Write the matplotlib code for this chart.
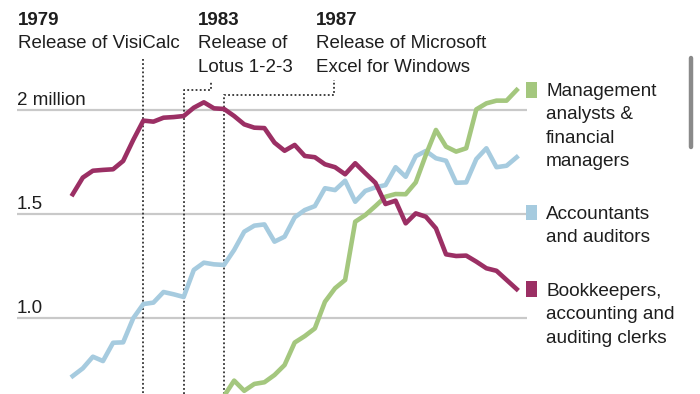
import matplotlib
matplotlib.use("Agg")
import matplotlib.pyplot as plt
from matplotlib.patches import Rectangle
import matplotlib.transforms as mtrans

plt.rcParams['font.family'] = ['Liberation Sans', 'DejaVu Sans']

years = list(range(1972, 2017))

bookkeepers = [1.595, 1.675, 1.708, 1.712, 1.715, 1.755, 1.856, 1.949, 1.944, 1.963,
               1.966, 1.971, 2.011, 2.037, 2.008, 2.005, 1.971, 1.931, 1.915, 1.913,
               1.843, 1.804, 1.832, 1.779, 1.773, 1.739, 1.725, 1.691, 1.744, 1.696,
               1.650, 1.548, 1.564, 1.455, 1.503, 1.487, 1.431, 1.306, 1.298, 1.300,
               1.271, 1.239, 1.227, 1.183, 1.139]

accountants = [0.721, 0.758, 0.814, 0.793, 0.881, 0.883, 0.999, 1.067, 1.074, 1.125,
               1.114, 1.101, 1.231, 1.266, 1.258, 1.255, 1.327, 1.415, 1.444, 1.450,
               1.367, 1.391, 1.484, 1.519, 1.538, 1.624, 1.615, 1.660, 1.559, 1.611,
               1.628, 1.639, 1.725, 1.679, 1.778, 1.803, 1.768, 1.756, 1.650, 1.652,
               1.764, 1.816, 1.725, 1.732, 1.773]

mgmt_years = list(range(1987, 2017))
management = [0.625, 0.699, 0.650, 0.683, 0.691, 0.726, 0.774, 0.882, 0.913, 0.950,
              1.078, 1.143, 1.183, 1.463, 1.495, 1.538, 1.583, 1.596, 1.595, 1.652,
              1.784, 1.904, 1.824, 1.800, 1.816, 2.003, 2.032, 2.045, 2.045, 2.096]

grid_values = [2.0, 1.5, 1.0]
grid_labels = ["2 million", "1.5", "1.0"]

events = [1979, 1983, 1987]
event_titles = ["1979", "1983", "1987"]
event_texts = [["Release of VisiCalc"], ["Release of", "Lotus 1-2-3"],
               ["Release of Microsoft", "Excel for Windows"]]

legend_labels = [["Management", "analysts &", "financial", "managers"],
                 ["Accountants", "and auditors"],
                 ["Bookkeepers,", "accounting and", "auditing clerks"]]

MAGENTA = "#9b2f64"
BLUE = "#a6cbdf"
GREEN = "#a4c77e"
GRID = "#c9c9c9"
TEXT = "#1e1e1e"
DOT = "#333333"

W, H = 700, 394
fig = plt.figure(figsize=(7.0, 3.94), dpi=100)
ax = fig.add_axes([0, 0, 1, 1])
ax.set_axis_off()

# pixel mapping
x0_pix, px_per_year = 72.7, 10.09
y2_pix, px_per_million = 110.0, 208.0
ax.set_xlim(1972 - x0_pix / px_per_year, 1972 + (W - x0_pix) / px_per_year)
ax.set_ylim(2.0 - (H - y2_pix) / px_per_million, 2.0 + y2_pix / px_per_million)

def fx(px):
    return px / W

def fy(py):
    return 1 - py / H

def year_of(px):
    return 1972 + (px - x0_pix) / px_per_year

def put(px, py, s, **kw):
    ax.text(fx(px), fy(py), s, transform=ax.transAxes, color=TEXT,
            va='baseline', ha='left', **kw)

# gridlines and labels
for v, lab in zip(grid_values, grid_labels):
    ax.hlines(v, year_of(17), year_of(527), color=GRID, lw=1.6, zorder=1)
    put(17, y2_pix + (2.0 - v) * px_per_million - 5, lab, fontsize=13.5)

# lines
ax.plot(years, accountants, color=BLUE, lw=3.3, zorder=3)
ax.plot(mgmt_years, management, color=GREEN, lw=3.3, zorder=4)
ax.plot(years, bookkeepers, color=MAGENTA, lw=3.3, zorder=5)

# event annotation lines (x in data, y in axes fraction)
blend = mtrans.blended_transform_factory(ax.transData, ax.transAxes)
dot_kw = dict(color=DOT, lw=1.3, linestyle=(0, (1, 1.3)), zorder=2, transform=blend,
              clip_on=False)
ax.plot([events[0], events[0]], [fy(59), 0], **dot_kw)
ax.plot([events[1], events[1], year_of(210.7), year_of(210.7)],
        [0, fy(90), fy(90), fy(81)], **dot_kw)
ax.plot([events[2], events[2], year_of(333.5), year_of(333.5)],
        [0, fy(95), fy(95), fy(80)], **dot_kw)

text_x = [18, 198, 316]
for tx, title, body in zip(text_x, event_titles, event_texts):
    put(tx, 25, title, fontsize=13.5, fontweight='bold')
    for i, line in enumerate(body):
        put(tx, 48 + 23.5 * i, line, fontsize=13.5)

# legend
leg_colors = [GREEN, BLUE, MAGENTA]
leg_top = [82, 204.5, 281]
leg_base = [96, 219, 296]
for c, top, base, lab in zip(leg_colors, leg_top, leg_base, legend_labels):
    ax.add_patch(Rectangle((fx(526), fy(top + 15.5)), 11 / W, 15.5 / H,
                           transform=ax.transAxes, color=c, lw=0, clip_on=False))
    for i, line in enumerate(lab):
        put(546, base + 23.3 * i, line, fontsize=13.7)

# scrollbar artefact
ax.plot([fx(691), fx(691)], [fy(58), fy(147)], transform=ax.transAxes,
        color="#8a8a8a", lw=3.2, solid_capstyle='round', clip_on=False)

fig.savefig("out.png", dpi=100)
